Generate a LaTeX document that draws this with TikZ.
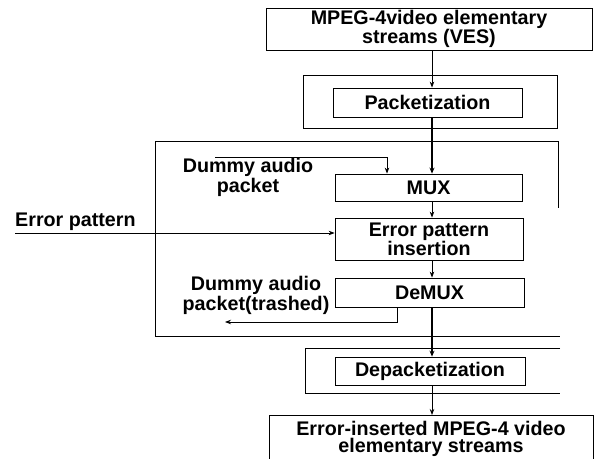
\documentclass[tikz,border=0pt]{standalone}
\usepackage{fontspec}
\setmainfont{Liberation Sans}
\usetikzlibrary{arrows.meta,calc}
\tikzset{
  txt/.style={font=\fontsize{19.7bp}{#1}\selectfont\bfseries},
  txt/.default=16.5bp,
  box/.style={draw, line width=0.8bp, inner sep=0pt, align=center, txt},
  lbl/.style={inner sep=0pt, align=center, txt=#1},
  lbl/.default=15bp,
  frame/.style={line width=0.8bp},
  arr/.style={line width=0.8bp, -{Stealth[length=6bp,width=4.5bp]}},
  heavyarr/.style={line width=1.6bp, -{Stealth[length=6bp,width=5bp]}},
}
\begin{document}
\begin{tikzpicture}[x=1bp,y=-1bp]
\useasboundingbox (0,0) rectangle (600,459);
\clip (0,0) rectangle (600,459);
\fill[white] (0,0) rectangle (600,459);

% common vertical axis of the main flow
\coordinate (axis) at (432,0);

% input streams
\node[box, txt=17bp, minimum width=326bp, minimum height=42bp] (ves) at (429,29)
  {MPEG-4video elementary\\streams (VES)};

% packetization stage
\node[box, minimum width=254bp, minimum height=53bp] (pkframe) at (430,101.5) {};
\node[box, minimum width=189bp, minimum height=29bp] (pk) at (427.5,102.5) {Packetization};

% error insertion stage, open frame
\draw[frame] (558,208) -- (558,141) -- (155,141) -- (155,336) -- (560,336);
\node[box, minimum width=187bp, minimum height=27bp] (mux) at (428.5,187.5) {MUX};
\node[box, txt=18bp, minimum width=188bp, minimum height=42bp] (err) at (429,239)
  {Error pattern\\insertion};
\node[box, minimum width=189bp, minimum height=29bp] (demux) at (429.5,292.5) {DeMUX};

% depacketization stage, open frame
\draw[frame] (560,348) -- (305,348) -- (305,393) -- (560,393);
\node[box, minimum width=190bp, minimum height=28bp] (dp) at (430,371) {Depacketization};

% output streams; the box runs past the lower edge of the page
\node[box, txt=17bp, minimum width=324bp, inner ysep=6bp, anchor=north] (out) at (431,415)
  {Error-inserted MPEG-4 video\\elementary streams};

% side labels
\node[lbl] (dummyin) at (248,177.5) {Dummy audio\\packet};
\node[lbl, anchor=base west] (eplabel) at (15,227) {Error pattern};
\node[lbl] (dummyout) at (256,295.5) {Dummy audio\\packet(trashed)};

% main flow
\draw[arr] (ves.south -| axis) -- (pk.north -| axis);
\draw[heavyarr] (pk.south -| axis) -- (mux.north -| axis);
\draw[arr] (mux.south -| axis) -- (err.north -| axis);
\draw[arr] (err.south -| axis) -- (demux.north -| axis);
\draw[heavyarr] (demux.south -| axis) -- (dp.north -| axis);
\draw[arr] (dp.south -| axis) -- (out.north -| axis);

% dummy audio in
\coordinate (dstart) at (215,157);
\coordinate (dturn) at (387,0);
\draw[arr] (dstart) -| (dturn |- mux.north);

% error pattern in
\coordinate (epstart) at (15,233);
\draw[arr] (epstart) -- (err.west |- epstart);

% dummy audio out
\coordinate (trturn) at (397,322);
\coordinate (trend) at (225,322);
\draw[arr] (demux.south -| trturn) -- (trturn) -- (trend);
\end{tikzpicture}
\end{document}
